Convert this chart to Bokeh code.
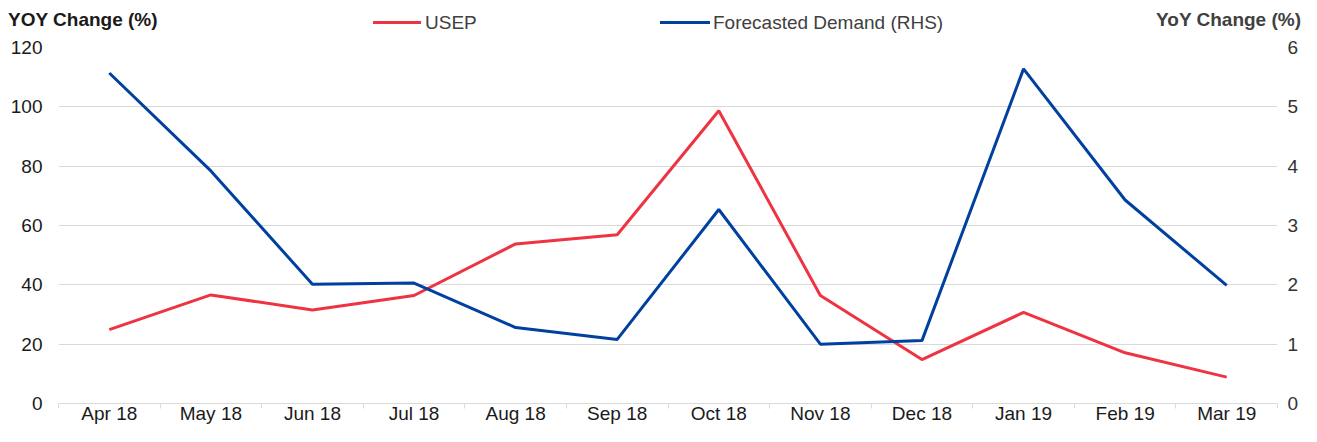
from bokeh.plotting import figure
from bokeh.layouts import column
from bokeh.models import Range1d, LinearAxis, FixedTicker, Div
from bokeh.embed import file_html
from bokeh.resources import INLINE

months = ["Apr 18", "May 18", "Jun 18", "Jul 18", "Aug 18", "Sep 18",
          "Oct 18", "Nov 18", "Dec 18", "Jan 19", "Feb 19", "Mar 19"]
usep = [24.9, 36.6, 31.5, 36.4, 53.8, 56.9, 98.7, 36.4, 14.8, 30.7, 17.1, 8.9]
demand = [5.57, 3.92, 2.01, 2.03, 1.28, 1.08, 3.27, 1.00, 1.06, 5.64, 3.43, 1.99]
left_ticks = [0, 20, 40, 60, 80, 100, 120]
right_ticks = [0, 1, 2, 3, 4, 5, 6]
series_names = ["USEP", "Forecasted Demand (RHS)"]
left_title = "YOY Change (%)"
right_title = "YoY Change (%)"

RED = "#EE3342"
BLUE = "#0041A0"
FONT = "Liberation Sans"
FS = "19px"
GRID = "#d9d9d9"
W = 1301
HEAD_H = 35
MAIN_H = 391

xs = list(range(len(months)))

# ---------- header: titles and legend ----------
font_css = "font-family:'Liberation Sans',Arial,sans-serif;font-size:19px;line-height:19px;white-space:nowrap;"
html = (
    f'<div style="position:relative;width:{W}px;height:{HEAD_H}px;{font_css}">'
    f'<span style="position:absolute;left:8px;top:10px;font-weight:bold;color:#1a1a1a;">{left_title}</span>'
    f'<span style="position:absolute;left:373px;top:21px;width:48px;height:3px;background:{RED};"></span>'
    f'<span style="position:absolute;left:425px;top:13px;color:#404040;">{series_names[0]}</span>'
    f'<span style="position:absolute;left:660px;top:21px;width:50px;height:3px;background:{BLUE};"></span>'
    f'<span style="position:absolute;left:713px;top:13px;color:#404040;">{series_names[1]}</span>'
    f'<span style="position:absolute;right:0px;top:10px;font-weight:bold;color:#404040;">{right_title}</span>'
    '</div>'
)
head = Div(text=html, width=W, height=HEAD_H, margin=0)

# ---------- main chart ----------
p = figure(width=W, height=MAIN_H, output_backend="svg", toolbar_location=None,
           x_range=Range1d(-0.5, len(months) - 0.5), y_range=Range1d(0, 120),
           min_border_left=58, min_border_right=21, min_border_top=12, min_border_bottom=22)
p.extra_y_ranges = {"rhs": Range1d(0, 6)}
p.outline_line_color = None
p.background_fill_color = "white"
p.border_fill_color = "white"

xa = p.xaxis[0]
xa.ticker = FixedTicker(ticks=xs, minor_ticks=[i - 0.5 for i in range(len(months) + 1)])
xa.major_label_overrides = {i: m for i, m in enumerate(months)}
xa.major_tick_out = 0
xa.major_tick_in = 0
xa.minor_tick_out = 5
xa.minor_tick_in = 0
xa.minor_tick_line_color = GRID
xa.axis_line_color = GRID
xa.major_label_standoff = -6
xa.major_label_text_font = FONT
xa.major_label_text_font_size = FS
xa.major_label_text_color = "#1a1a1a"
p.xgrid.visible = False

ya = p.yaxis[0]
ya.ticker = FixedTicker(ticks=left_ticks)
ya.axis_line_color = None
ya.major_tick_line_color = None
ya.minor_tick_line_color = None
ya.major_tick_out = 0
ya.major_label_standoff = 16
ya.major_label_text_font = FONT
ya.major_label_text_font_size = FS
ya.major_label_text_color = "#1a1a1a"
p.ygrid.ticker = FixedTicker(ticks=left_ticks)
p.ygrid.grid_line_color = GRID
p.ygrid.grid_line_width = 1

ra = LinearAxis(y_range_name="rhs", ticker=FixedTicker(ticks=right_ticks))
ra.axis_line_color = None
ra.major_tick_line_color = None
ra.minor_tick_line_color = None
ra.major_tick_out = 0
ra.major_label_standoff = 10
ra.major_label_text_font = FONT
ra.major_label_text_font_size = FS
ra.major_label_text_color = "#333333"
p.add_layout(ra, "right")

p.line(xs, usep, line_color=RED, line_width=3)
p.line(xs, demand, line_color=BLUE, line_width=3, y_range_name="rhs")

layout = column(head, p, spacing=0)
open("out.html", "w").write(file_html(layout, INLINE))
